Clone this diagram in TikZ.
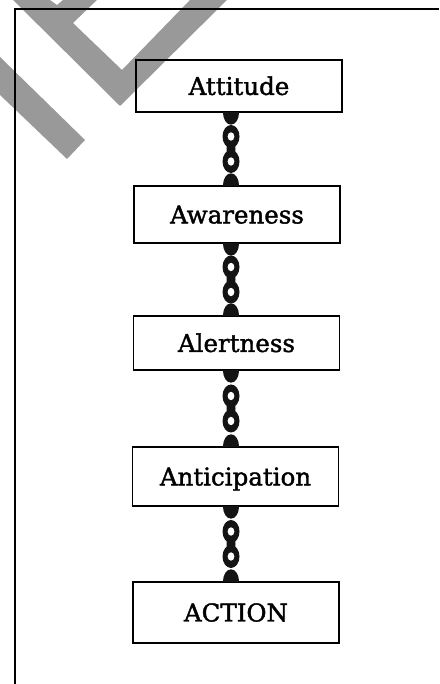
\documentclass[tikz,border=0pt]{standalone}
\usepackage{fontspec}
\setmainfont{DejaVu Serif}
\newfontfamily\boxfont{DejaVu Serif}[BoldFont={DejaVu Serif}, BoldFeatures={FakeBold=1.6}]
\usetikzlibrary{calc}
\tikzset{
  box/.style={draw=black, line width=1.4pt, minimum width=206pt, inner sep=0pt,
    font=\boxfont\bfseries\fontsize{24.5}{28}\selectfont, text height=17.9pt, text depth=0pt},
  wm/.style={fill=black!40},
  frameline/.style={line width=1.3pt},
  linkdark/.style={fill=black!92},
}
\newcommand\chainlinks[2]{%
  \coordinate (ct) at (cx |- #1.south);
  \coordinate (cb) at (cx |- #2.north);
  \coordinate (cm) at ($(ct)!0.5!(cb)$);
  \begin{scope}
    \clip ($(ct)+(-15,0)$) rectangle ($(cb)+(15,0)$);
    \fill[linkdark] (ct) ellipse [x radius=8pt, y radius=12pt];
    \fill[linkdark] (cb) ellipse [x radius=8pt, y radius=12pt];
  \end{scope}
  \fill[linkdark] (cm) ellipse [x radius=4.5pt, y radius=10pt];
  \foreach \d in {12.5,-12.5} {
    \fill[linkdark] ($(cm)+(0,\d)$) ellipse [x radius=8.5pt, y radius=11.5pt];
    \fill[white] ($(cm)+(0,\d)$) ellipse [x radius=3.4pt, y radius=4.2pt];
  }
}
\begin{document}
\begin{tikzpicture}[x=1pt,y=1pt]
  \useasboundingbox (0,0) rectangle (439,684);
  % watermark
  \fill[wm] (13,684) -- (50,684) -- (57,679) -- (63,684) -- (97,684) -- (73,661)
     -- (122,614) -- (190,684) -- (227,684) -- (120,578) -- cycle;
  \fill[wm] (0,627) -- (85,544) -- (67,525) -- (0,589) -- cycle;
  % frame
  \coordinate (f1) at (15,0);
  \coordinate (f2) at (15,675);
  \coordinate (f3) at (439,675);
  \draw[frameline] (f1) -- (f2) -- (f3);
  % boxes
  \node[box, minimum height=52pt] (att) at (239,598) {Attitude};
  \node[box, minimum height=57pt] (awa) at (237,469.5) {Awareness};
  \node[box, minimum height=54pt] (ale) at (236.5,341) {Alertness};
  \node[box, minimum height=59pt] (ant) at (235.5,207.5) {Anticipation};
  \node[box, minimum height=61pt] (act) at (236,71.5) {ACTION};
  % chains
  \coordinate (cx) at (231,0);
  \chainlinks{att}{awa}
  \chainlinks{awa}{ale}
  \chainlinks{ale}{ant}
  \chainlinks{ant}{act}
\end{tikzpicture}
\end{document}
